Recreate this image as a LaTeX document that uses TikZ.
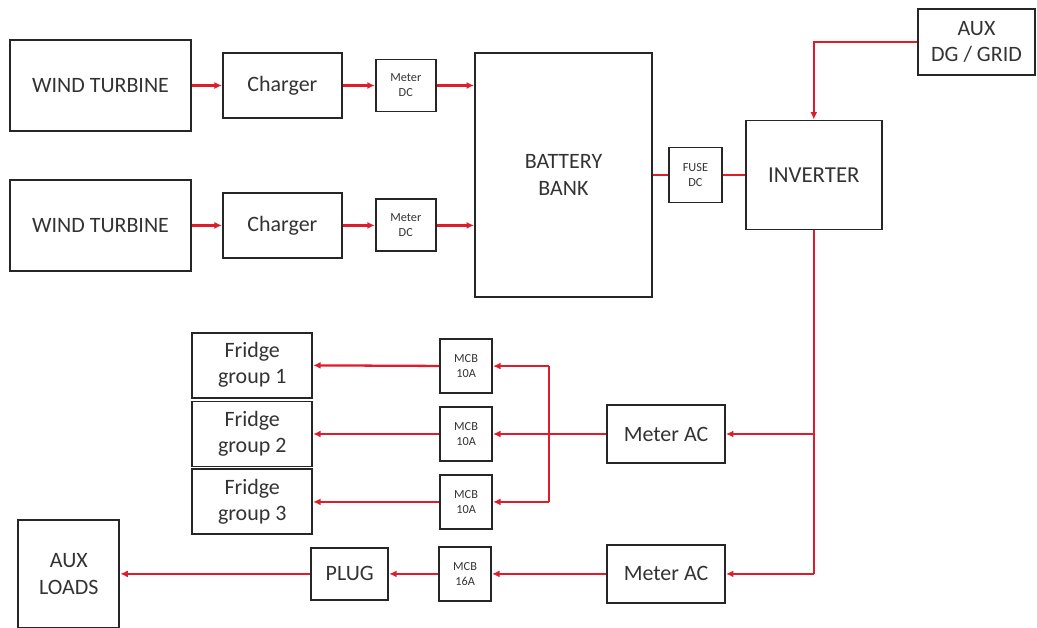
\documentclass[tikz,border=0pt]{standalone}
\usepackage{fontspec}
\setmainfont{Carlito}
\usepackage{tikz}
\usetikzlibrary{arrows.meta,positioning}
\definecolor{wirered}{RGB}{222,28,44}

\begin{document}
\begin{tikzpicture}[
	x=0.02cm, y=-0.02cm,
	block/.style={draw=black!85, line width=1.1pt, align=center, inner sep=0pt, text=black!80, font=\fontsize{12.5}{15}\selectfont},
	small/.style={block, font=\fontsize{7}{8.5}\selectfont},
	turbine/.style={block, minimum width=3.62cm, minimum height=1.82cm},
	charger/.style={block, minimum width=2.38cm, minimum height=1.3cm},
	meterdc/.style={small, minimum width=1.2cm, minimum height=1.04cm},
	meterac/.style={block, minimum width=2.36cm, minimum height=1.16cm},
	mcb/.style={small, minimum width=1.04cm, minimum height=1.08cm},
	fridge/.style={block, minimum width=2.4cm, minimum height=1.3cm},
	wire/.style={draw=wirered, line width=1.3pt},
	arr/.style={wire, -{Latex[length=1.5mm,width=1.4mm]}}
	]
	\useasboundingbox (0,0) rectangle (1037,628);
	\node[turbine] (wt1) at (100.5,85.5) {WIND TURBINE};
	\node[charger, right=0.6cm of wt1] (ch1) {Charger};
	\node[meterdc, right=0.64cm of ch1] (mdc1) {Meter\\DC};
	\node[turbine, below=0.94cm of wt1] (wt2) {WIND TURBINE};
	\node[charger, right=0.6cm of wt2] (ch2) {Charger};
	\node[meterdc, right=0.64cm of ch2] (mdc2) {Meter\\DC};
	\node[block, minimum width=3.54cm, minimum height=4.88cm] (bat) at (563.5,175) {BATTERY\\BANK};
	\node[small, right=0.3cm of bat, minimum width=1.06cm, minimum height=1.1cm] (fuse) {FUSE\\DC};
	\node[block, right=0.44cm of fuse, minimum width=2.72cm, minimum height=2.18cm, font=\fontsize{13}{15}\selectfont] (inv) {INVERTER};
	\node[block, minimum width=2.34cm, minimum height=1.32cm] (grid) at (976.5,42) {AUX\\DG / GRID};
	\node[meterac] (mac1) at (666,434) {Meter AC};
	\node[meterac, below=1.6cm of mac1] (mac2) {Meter AC};
	\node[mcb, left=2.26cm of mac1] (mcb2) {MCB\\10A};
	\node[mcb, above=0.24cm of mcb2] (mcb1) {MCB\\10A};
	\node[mcb, below=0.24cm of mcb2] (mcb3) {MCB\\10A};
	\node[fridge, left=2.52cm of mcb2] (fr2) {Fridge\\group 2};
	\node[fridge, above=0.04cm of fr2] (fr1) {Fridge\\group 1};
	\node[fridge, below=0.02cm of fr2] (fr3) {Fridge\\group 3};
	\node[mcb, left=2.28cm of mac2] (mcb16) {MCB\\16A};
	\node[block, left=0.98cm of mcb16, minimum width=1.54cm, minimum height=1.04cm] (plug) {PLUG};
	\node[block, left=3.8cm of plug, minimum width=2.02cm, minimum height=2.16cm] (aux) {AUX\\LOADS};
	\coordinate[left=1.14cm of mac1.west] (bus);
	\draw[arr] (wt1) -- (ch1);
	\draw[arr] (ch1) -- (mdc1);
	\draw[arr] (mdc1) -- (mdc1 -| bat.west);
	\draw[arr] (wt2) -- (ch2);
	\draw[arr] (ch2) -- (mdc2);
	\draw[arr] (mdc2) -- (mdc2 -| bat.west);
	\draw[wire] (bat) -- (fuse);
	\draw[wire] (fuse) -- (inv);
	\draw[arr] (grid.west) -| (inv.north);
	\draw[wire] (inv.south) -- (inv.south |- mac2.east);
	\draw[arr] (inv.south |- mac1.east) -- (mac1.east);
	\draw[arr] (inv.south |- mac2.east) -- (mac2.east);
	\draw[wire] (mac1.west) -- (bus);
	\draw[wire] (bus |- mcb1.east) -- (bus |- mcb3.east);
	\draw[arr] (bus |- mcb1.east) -- (mcb1.east);
	\draw[arr] (bus) -- (mcb2.east);
	\draw[arr] (bus |- mcb3.east) -- (mcb3.east);
	\draw[arr] (mcb1) -- (fr1);
	\draw[arr] (mcb2) -- (fr2);
	\draw[arr] (mcb3) -- (fr3);
	\draw[arr] (mac2) -- (mcb16);
	\draw[arr] (mcb16) -- (plug);
	\draw[arr] (plug) -- (aux);
\end{tikzpicture}
\end{document}
